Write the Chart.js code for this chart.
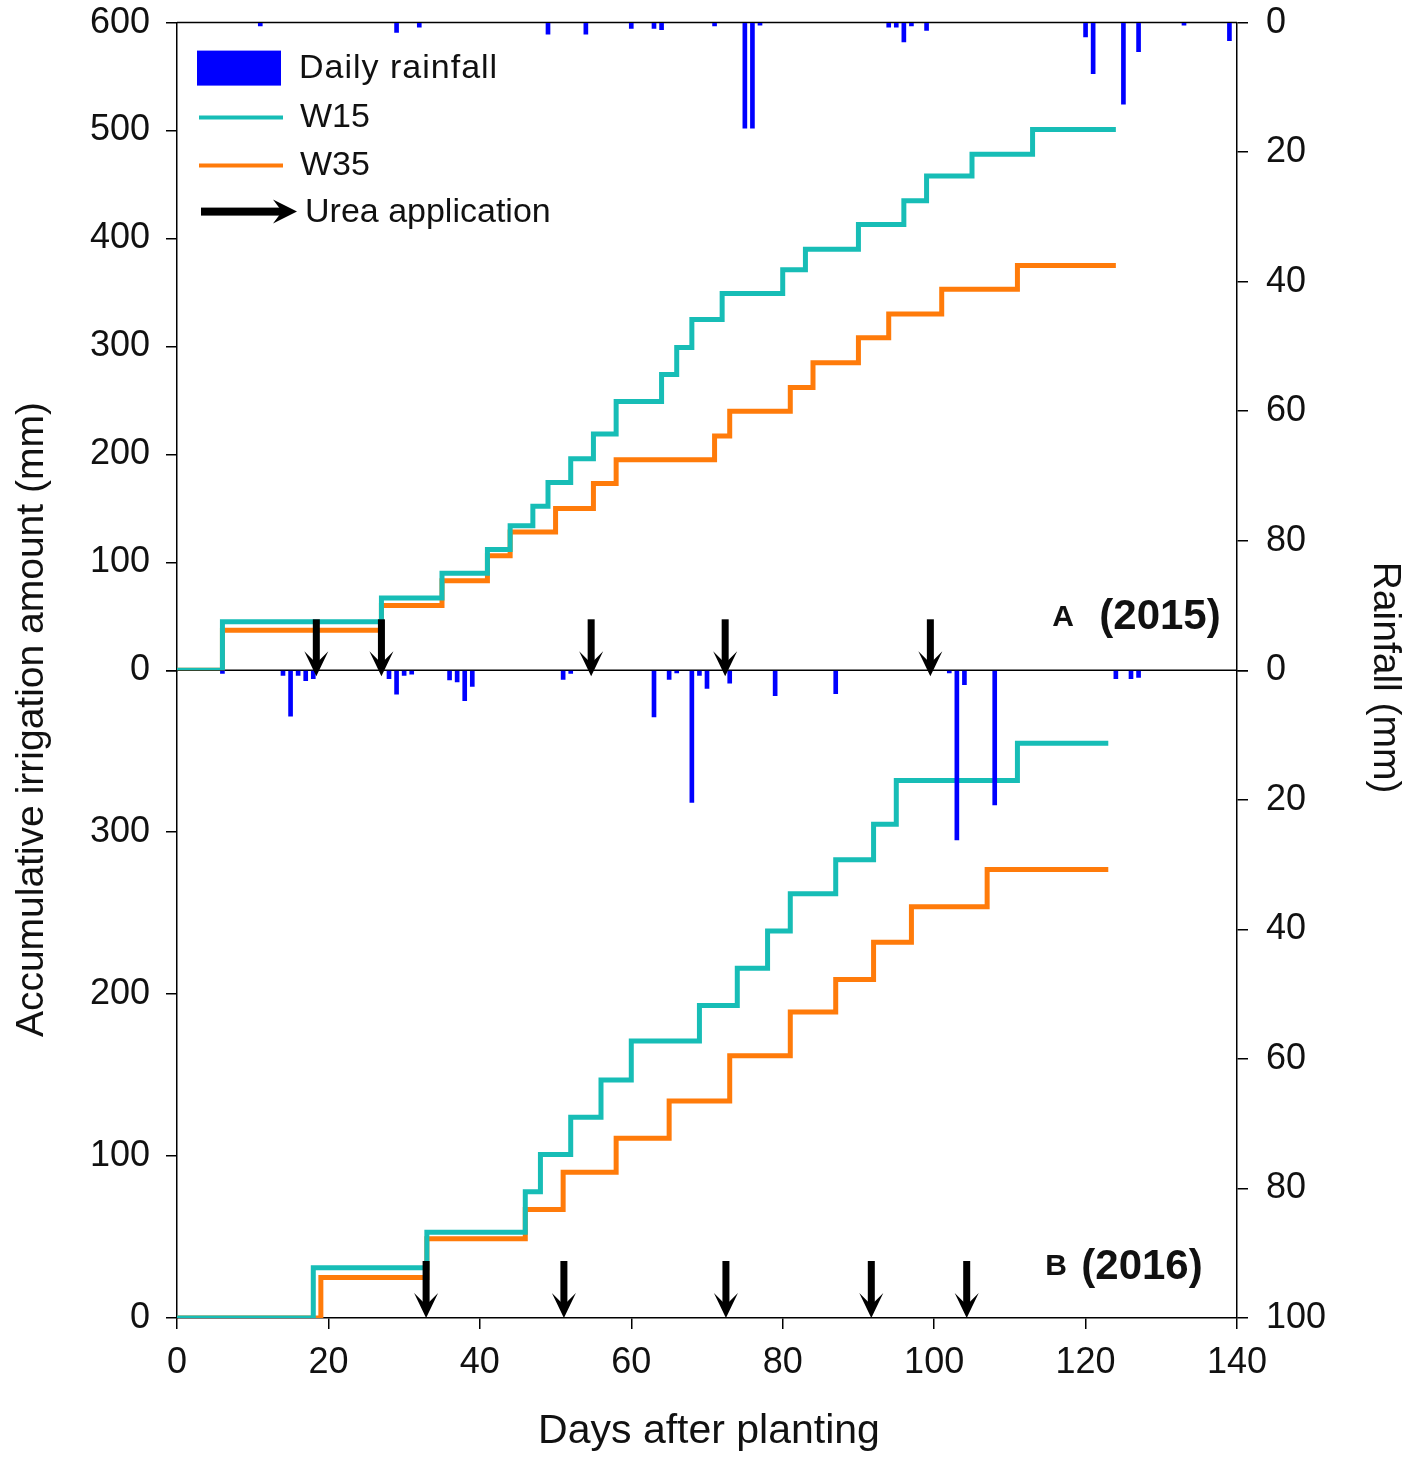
<!DOCTYPE html>
<html>
<head>
<meta charset="utf-8">
<script src="https://cdn.jsdelivr.net/npm/chart.js@4.4.1/dist/chart.umd.min.js"></script>
<style>
  html, body { margin: 0; padding: 0; background: #fff; }
  #frame { position: relative; width: 1418px; height: 1461px; overflow: hidden; }
  /* the canvas is a bit taller and pulled up so the plot top lands at y=21 */
  #wrap { position: absolute; left: 0; top: -17px; width: 1418px; height: 1478px; }
</style>
</head>
<body>
<div id="frame"><div id="wrap"><canvas id="chart"></canvas></div></div>
<script>
// ---- data ----

// daily rainfall, 2015 (day after planting, mm)
const rain2015Days = [11, 29, 32, 49, 54, 60, 63, 64, 71, 75, 76, 77, 94, 95, 96, 97, 99, 120, 121, 125, 127, 133, 139];
const rain2015Mm   = [0.5, 1.5, 0.7, 1.8, 1.8, 0.9, 0.9, 1.1, 0.5, 16.3, 16.3, 0.4, 0.7, 0.7, 3.0, 0.5, 1.2, 2.2, 7.9, 12.6, 4.5, 0.4, 2.8];

// daily rainfall, 2016
const rain2016Days = [6, 14, 15, 16, 17, 18, 28, 29, 30, 31, 36, 37, 38, 39, 51, 52, 63, 65, 66, 68, 69, 70, 73, 79, 87, 102, 103, 104, 108, 124, 126, 127];
const rain2016Mm   = [0.5, 0.8, 7.1, 0.8, 1.6, 1.3, 1.3, 3.7, 0.8, 0.6, 1.5, 1.8, 4.7, 2.5, 1.4, 0.5, 7.2, 1.4, 0.4, 20.4, 0.8, 2.8, 2.0, 3.9, 3.6, 0.4, 26.2, 2.2, 20.8, 1.3, 1.3, 1.1];

// accumulative irrigation, 2015 (day the new total is reached, mm)
const w15Days2015 = [0, 6, 27, 35, 41, 44, 47, 49, 52, 55, 58, 64, 66, 68, 72, 80, 83, 90, 96, 99, 105, 113, 124];
const w15Vals2015 = [0, 45, 67, 90, 112, 134, 152, 174, 196, 219, 249, 274, 299, 325, 349, 371, 390, 413, 435, 458, 478, 501, 501];
const w35Days2015 = [0, 6, 27, 35, 41, 44, 50, 55, 58, 71, 73, 81, 84, 90, 94, 101, 111, 124];
const w35Vals2015 = [0, 37, 60, 83, 106, 128, 150, 173, 195, 217, 240, 262, 285, 308, 330, 353, 375, 375];

// accumulative irrigation, 2016
const w15Days2016 = [0, 18, 33, 46, 48, 52, 56, 60, 69, 74, 78, 81, 87, 92, 95, 111, 123];
const w15Vals2016 = [0, 31, 53, 78, 101, 124, 147, 171, 193, 216, 239, 262, 283, 305, 332, 355, 355];
const w35Days2016 = [0, 19, 33, 46, 51, 58, 65, 73, 81, 87, 92, 97, 107, 123];
const w35Vals2016 = [0, 25, 49, 67, 90, 111, 134, 162, 189, 209, 232, 254, 277, 277];

// urea application days
const urea2015 = [18.4, 27, 54.7, 72.4, 99.5];
const urea2016 = [32.9, 51.1, 72.5, 91.7, 104.3];

// axis ticks
const xTicks = [0, 20, 40, 60, 80, 100, 120, 140];
const irrTopMax = 600;
const irrBotMax = 400;
const rainMax = 100;

// ---- styling ----
const FONT = "'Liberation Sans', Arial, sans-serif";
const TEAL = '#17bdb6';
const ORANGE = '#ff7b0a';
const BLUE = '#0000ff';
const INK = '#111';

const pts = (days, vals) => days.map((d, i) => ({ x: d, y: vals[i] }));

function drawArrow(ctx, x, tipY, len) {
    // thick shaft with a notched head, pointing down
    ctx.fillStyle = '#000';
    ctx.fillRect(x - 3.5, tipY - len, 7, len - 12);
    ctx.beginPath();
    ctx.moveTo(x, tipY);
    ctx.lineTo(x - 12, tipY - 25);
    ctx.lineTo(x, tipY - 13);
    ctx.lineTo(x + 12, tipY - 25);
    ctx.closePath();
    ctx.fill();
}

const overlay = {
    id: 'overlay',
    beforeDatasetsDraw(chart) {
        const { ctx, chartArea: a, scales } = chart;
        const mid = scales.yTop.getPixelForValue(0);
        ctx.save();
        ctx.strokeStyle = '#000';
        ctx.lineWidth = 1.5;
        ctx.beginPath();
        ctx.moveTo(a.left, a.top); ctx.lineTo(a.right, a.top);
        ctx.moveTo(a.left, mid); ctx.lineTo(a.right, mid);
        ctx.stroke();
        ctx.restore();
    },
    afterDatasetsDraw(chart) {
        const { ctx, chartArea: a, scales } = chart;
        ctx.save();
        const midY = scales.yTop.getPixelForValue(0);
        const botY = scales.yBot.getPixelForValue(0);
        urea2015.forEach(d => drawArrow(ctx, scales.x.getPixelForValue(d), midY + 6, 57));
        urea2016.forEach(d => drawArrow(ctx, scales.x.getPixelForValue(d), botY, 57));

        // panel labels
        ctx.fillStyle = INK;
        ctx.textAlign = 'center';
        ctx.textBaseline = 'middle';
        ctx.font = `bold 30px ${FONT}`;
        ctx.fillText('A', a.right - 174, midY - 53);
        ctx.fillText('B', a.right - 181, botY - 51);
        ctx.font = `bold 42px ${FONT}`;
        ctx.fillText('(2015)', a.right - 77, midY - 53);
        ctx.fillText('(2016)', a.right - 95, botY - 51);

        // legend
        const lx = a.left, ly = a.top;
        ctx.textAlign = 'left';
        ctx.font = `34px ${FONT}`;
        ctx.fillStyle = BLUE;
        ctx.fillRect(lx + 20, ly + 28, 84, 35);
        ctx.fillStyle = INK;
        ctx.letterSpacing = '1px';
        ctx.fillText('Daily rainfall', lx + 122, ly + 46);
        ctx.letterSpacing = '0px';
        ctx.lineWidth = 4;
        ctx.strokeStyle = TEAL;
        ctx.beginPath(); ctx.moveTo(lx + 22, ly + 95); ctx.lineTo(lx + 106, ly + 95); ctx.stroke();
        ctx.fillText('W15', lx + 123, ly + 95);
        ctx.strokeStyle = ORANGE;
        ctx.beginPath(); ctx.moveTo(lx + 22, ly + 143); ctx.lineTo(lx + 106, ly + 143); ctx.stroke();
        ctx.fillText('W35', lx + 123, ly + 143);
        ctx.fillStyle = '#000';
        ctx.fillRect(lx + 24, ly + 185, 82, 8);
        ctx.beginPath();
        ctx.moveTo(lx + 120, ly + 189);
        ctx.lineTo(lx + 96, ly + 177);
        ctx.lineTo(lx + 105, ly + 189);
        ctx.lineTo(lx + 96, ly + 201);
        ctx.closePath();
        ctx.fill();
        ctx.fillStyle = INK;
        ctx.fillText('Urea application', lx + 128, ly + 190);
        ctx.restore();
    },
    afterDraw(chart) {
        const { ctx, chartArea: a } = chart;
        ctx.save();
        ctx.fillStyle = INK;
        ctx.textAlign = 'center';
        ctx.textBaseline = 'middle';
        ctx.font = `41px ${FONT}`;
        ctx.fillText('Days after planting', (a.left + a.right) / 2 + 2, a.bottom + 114);
        ctx.font = `39px ${FONT}`;
        ctx.translate(32, a.top + 697);
        ctx.rotate(-Math.PI / 2);
        ctx.fillText('Accumulative irrigation amount (mm)', 0, 0);
        ctx.restore();
        ctx.save();
        ctx.fillStyle = INK;
        ctx.textAlign = 'center';
        ctx.textBaseline = 'middle';
        ctx.font = `39px ${FONT}`;
        ctx.translate(1385, a.top + 655);
        ctx.rotate(Math.PI / 2);
        ctx.fillText('Rainfall (mm)', 0, 0);
        ctx.restore();
    }
};

const tickFont = { family: FONT, size: 36 };
const axisLine = { display: true, color: '#000', width: 1.5 };
const gridOff = { drawOnChartArea: false, drawTicks: true, tickLength: 11, color: '#000', lineWidth: 1.5 };

new Chart(document.getElementById('chart'), {
    type: 'line',
    data: {
        datasets: [
            { type: 'bar', label: 'Daily rainfall', data: pts(rain2015Days, rain2015Mm), xAxisID: 'x', yAxisID: 'rTop',
              backgroundColor: BLUE, borderWidth: 0, barThickness: 4, grouped: false, order: 0 },
            { type: 'bar', label: 'Daily rainfall 2016', data: pts(rain2016Days, rain2016Mm), xAxisID: 'x', yAxisID: 'rBot',
              backgroundColor: BLUE, borderWidth: 0, barThickness: 4, grouped: false, order: 0 },
            { label: 'W15', data: pts(w15Days2015, w15Vals2015), yAxisID: 'yTop', stepped: 'before',
              borderColor: TEAL, borderWidth: 5, pointRadius: 0, fill: false, order: 1 },
            { label: 'W35', data: pts(w35Days2015, w35Vals2015), yAxisID: 'yTop', stepped: 'before',
              borderColor: ORANGE, borderWidth: 5, pointRadius: 0, fill: false, order: 2 },
            { label: 'W15 2016', data: pts(w15Days2016, w15Vals2016), yAxisID: 'yBot', stepped: 'before',
              borderColor: TEAL, borderWidth: 5, pointRadius: 0, fill: false, order: 1 },
            { label: 'W35 2016', data: pts(w35Days2016, w35Vals2016), yAxisID: 'yBot', stepped: 'before',
              borderColor: ORANGE, borderWidth: 5, pointRadius: 0, fill: false, order: 2 }
        ]
    },
    options: {
        responsive: true,
        maintainAspectRatio: false,
        animation: false,
        events: [],
        layout: { padding: { top: 21, left: 0, right: 0, bottom: 0 } },
        plugins: { legend: { display: false }, tooltip: { enabled: false } },
        scales: {
            x: {
                type: 'linear', position: 'bottom', min: 0, max: 140, offset: false,
                afterBuildTicks: s => { s.ticks = xTicks.map(v => ({ value: v })); },
                ticks: { font: tickFont, color: INK, padding: 12, maxRotation: 0 },
                grid: { ...gridOff, offset: false }, border: axisLine,
                afterFit: s => { s.height = 143; }
            },
            // left stack: the last one ends up on top, so the lower panel comes first
            yBot: {
                type: 'linear', position: 'left', stack: 'left', stackWeight: 1,
                min: 0, max: irrBotMax,
                ticks: { stepSize: 100, font: tickFont, color: INK, padding: 16,
                         callback: v => v === irrBotMax ? '' : v },
                grid: gridOff, border: axisLine,
                afterFit: s => { s.width = 177; }
            },
            yTop: {
                type: 'linear', position: 'left', stack: 'left', stackWeight: 1,
                min: 0, max: irrTopMax,
                ticks: { stepSize: 100, font: tickFont, color: INK, padding: 16 },
                grid: gridOff, border: axisLine,
                afterFit: s => { s.width = 177; }
            },
            // right stack is placed the other way round
            rTop: {
                type: 'linear', position: 'right', stack: 'right', stackWeight: 1,
                reverse: true, min: 0, max: rainMax,
                ticks: { stepSize: 20, font: tickFont, color: INK, padding: 18,
                         callback: v => v === rainMax ? '' : v },
                grid: gridOff, border: axisLine,
                afterFit: s => { s.width = 181; }
            },
            rBot: {
                type: 'linear', position: 'right', stack: 'right', stackWeight: 1,
                reverse: true, min: 0, max: rainMax,
                ticks: { stepSize: 20, font: tickFont, color: INK, padding: 18 },
                grid: gridOff, border: axisLine,
                afterFit: s => { s.width = 181; }
            }
        }
    },
    plugins: [overlay]
});
</script>
</body>
</html>
